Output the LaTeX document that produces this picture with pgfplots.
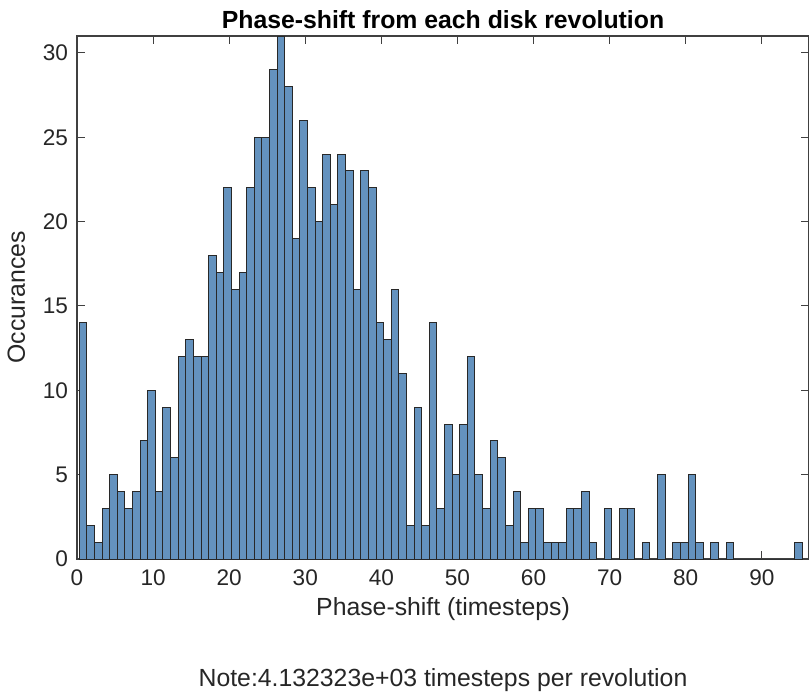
\documentclass[border=0pt]{standalone}
\usepackage{pgfplots}
\pgfplotsset{compat=1.18}
\usepackage{fontspec}
\setmainfont{Liberation Sans}
\definecolor{barfill}{RGB}{100,146,190}
\definecolor{baredge}{RGB}{40,40,40}
\begin{document}
\begin{tikzpicture}
\begin{axis}[
  scale only axis,
  width=366pt, height=261.5pt,
  xmin=0, xmax=96.2, ymin=0, ymax=31,
  xtick={0,10,...,90}, ytick={0,5,...,30},
  tick align=inside,
  major tick length=4pt,
  tick style={black!75, line width=0.5pt},
  axis line style={black!75, line width=0.6pt},
  /pgf/number format/assume math mode=true,
  tick label style={font=\fontsize{11.3}{13}\selectfont, text=black!85},
  xticklabel style={yshift=-2pt},
  yticklabel style={xshift=-1pt},
  xlabel={Phase-shift (timesteps)},
  ylabel={Occurances},
  label style={font=\fontsize{12.4}{14}\selectfont, text=black!85},
  xlabel style={yshift=1pt},
  ylabel style={yshift=2pt},
  title={\textbf{Phase-shift from each disk revolution}},
  title style={font=\fontsize{12.4}{14}\selectfont, yshift=-6pt},
  clip=true,
]
\addplot[ybar, bar width=1, bar shift=0pt, fill=barfill, draw=baredge, line width=0.5pt] coordinates {
(0.8,14) (1.8,2) (2.8,1) (3.8,3) (4.8,5) (5.8,4) (6.8,3) (7.8,4) (8.8,7) (9.8,10)
(10.8,4) (11.8,9) (12.8,6) (13.8,12) (14.8,13) (15.8,12) (16.8,12) (17.8,18) (18.8,17) (19.8,22)
(20.8,16) (21.8,17) (22.8,22) (23.8,25) (24.8,25) (25.8,29) (26.8,31) (27.8,28) (28.8,19) (29.8,26)
(30.8,22) (31.8,20) (32.8,24) (33.8,21) (34.8,24) (35.8,23) (36.8,16) (37.8,23) (38.8,22) (39.8,14)
(40.8,13) (41.8,16) (42.8,11) (43.8,2) (44.8,9) (45.8,2) (46.8,14) (47.8,3) (48.8,8) (49.8,5)
(50.8,8) (51.8,12) (52.8,5) (53.8,3) (54.8,7) (55.8,6) (56.8,2) (57.8,4) (58.8,1) (59.8,3)
(60.8,3) (61.8,1) (62.8,1) (63.8,1) (64.8,3) (65.8,3) (66.8,4) (67.8,1) (68.8,0) (69.8,3)
(70.8,0) (71.8,3) (72.8,3) (73.8,0) (74.8,1) (75.8,0) (76.8,5) (77.8,0) (78.8,1) (79.8,1)
(80.8,5) (81.8,1) (82.8,0) (83.8,1) (84.8,0) (85.8,1) (86.8,0) (87.8,0) (88.8,0) (89.8,0)
(90.8,0) (91.8,0) (92.8,0) (93.8,0) (94.8,1)
};
\end{axis}
\node[font=\fontsize{12.4}{14}\selectfont, text=black!85] at ([yshift=-60.5pt]current axis.south) {Note:4.132323e+03 timesteps per revolution};
\pgfresetboundingbox
\path (current axis.south west) ++(-38.5pt,-67pt) rectangle ++(404.5pt,346.5pt);
\end{tikzpicture}
\end{document}
